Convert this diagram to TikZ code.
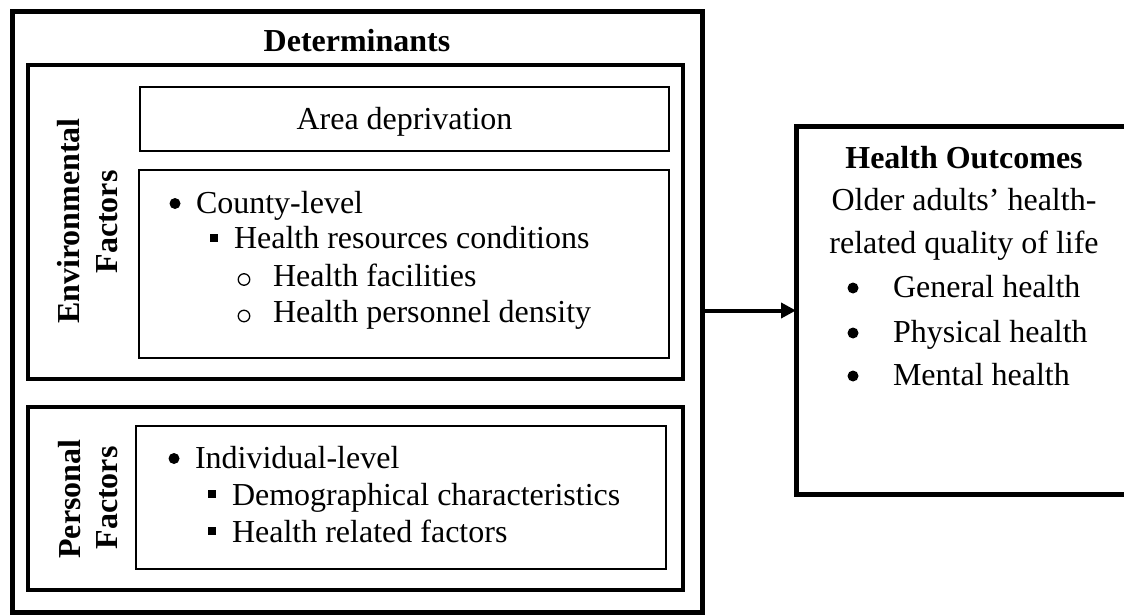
\documentclass[tikz,border=0pt]{standalone}
\usepackage{fontspec}
\setmainfont{Liberation Serif}
\usetikzlibrary{arrows.meta}
\begin{document}
\begin{tikzpicture}[x=1pt,y=-1pt,
  every node/.style={inner sep=0pt, outer sep=0pt, font=\fontsize{32}{38}\selectfont},
  heavybox/.style={draw, line width=5pt, minimum width=#1},
  framebox/.style={draw, line width=4pt, minimum width=#1},
  itembox/.style={draw, line width=2.5pt, minimum width=#1},
  item/.style={anchor=base west},
  ctext/.style={anchor=base},
  hdr/.style={anchor=base, font=\fontsize{32}{38}\selectfont\bfseries},
  sidelbl/.style={anchor=base, rotate=90, font=\fontsize{32}{38}\selectfont\bfseries},
  dotb/.style={circle, fill, minimum size=11pt},
  sqb/.style={rectangle, fill, minimum size=8.5pt},
  ringb/.style={circle, draw, line width=1.3pt, minimum size=11.5pt},
  link/.style={line width=4pt, -{Triangle[length=15pt,width=15pt]}},
]
\clip (0,0) rectangle (1124,615);

% Determinants frame
\node[heavybox=690pt, minimum height=600pt] (outer) at (357,312) {};
\node[hdr] (dethdr) at (357,52) {Determinants};

% Environmental factors
\node[framebox=655pt, minimum height=314pt] (env) at (355.5,222) {};
\node[sidelbl] (envA) at (79,221) {Environmental};
\node[sidelbl] (envB) at (117,222) {Factors};
\node[itembox=529pt, minimum height=64pt] (area) at (404.5,119) {};
\node[ctext] (areatxt) at (404.5,130) {Area deprivation};
\node[itembox=530pt, minimum height=188pt] (county) at (404,264) {};

\node[dotb]  (cb1) at (175,203.5) {};
\node[item]  (ct1) at (196,213) {County-level};
\node[sqb]   (cb2) at (214,238) {};
\node[item]  (ct2) at (234,248.5) {Health resources conditions};
\node[ringb] (cb3) at (244,279.5) {};
\node[item]  (ct3) at (273,286) {Health facilities};
\node[ringb] (cb4) at (244,316) {};
\node[item]  (ct4) at (273,322.5) {Health personnel density};

% Personal factors
\node[framebox=655pt, minimum height=183pt] (pers) at (355.5,498.5) {};
\node[sidelbl] (persA) at (80,499) {Personal};
\node[sidelbl] (persB) at (117,498) {Factors};
\node[itembox=530pt, minimum height=143pt] (indiv) at (401,497.5) {};

\node[dotb] (pb1) at (174,458.5) {};
\node[item] (pt1) at (195,468) {Individual-level};
\node[sqb]  (pb2) at (212,494) {};
\node[item] (pt2) at (232,505) {Demographical characteristics};
\node[sqb]  (pb3) at (212,531) {};
\node[item] (pt3) at (232,542) {Health related factors};

% Health outcomes
\node[heavybox=344pt, minimum height=367pt] (outcome) at (968,310.5) {};
\node[hdr]   (ohdr) at (964,168) {Health Outcomes};
\node[ctext] (ol1) at (964,210) {Older adults’ health-};
\node[ctext] (ol2) at (964,253) {related quality of life};
\node[dotb]  (ob1) at (853,288) {};
\node[item]  (ot1) at (893,297) {General health};
\node[dotb]  (ob2) at (853,333) {};
\node[item]  (ot2) at (893,342) {Physical health};
\node[dotb]  (ob3) at (853,376) {};
\node[item]  (ot3) at (893,385) {Mental health};

% Determinants lead to outcomes
\draw[link] (outer.east |- outcome.west) -- (outcome.west);
\end{tikzpicture}
\end{document}
